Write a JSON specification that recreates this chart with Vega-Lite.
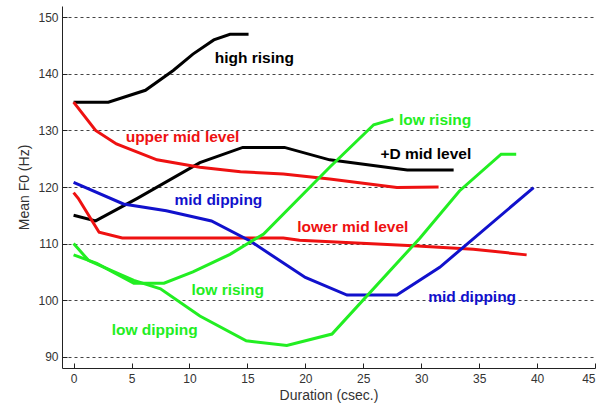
{
  "$schema": "https://vega.github.io/schema/vega-lite/v6.json",
  "width": 533,
  "height": 362,
  "autosize": {"type": "none"},
  "padding": {"left": 62, "top": 6, "right": 13, "bottom": 35},
  "background": "white",
  "config": {
    "view": {"stroke": null},
    "axis": {
      "domainColor": "#222",
      "tickColor": "#222",
      "labelFont": "Liberation Sans",
      "labelFontSize": 12,
      "labelColor": "#333",
      "titleFont": "Liberation Sans",
      "titleFontSize": 14,
      "titleFontWeight": "normal",
      "titleColor": "#333",
      "gridColor": "#444",
      "gridDash": [3, 3],
      "gridOpacity": 1,
      "gridWidth": 1
    }
  },
  "datasets": {
    "lines": [
      {"tone": "high rising", "t": 0, "f0": 135},
      {"tone": "high rising", "t": 3, "f0": 135},
      {"tone": "high rising", "t": 6.2, "f0": 137.1},
      {"tone": "high rising", "t": 8.6, "f0": 140.6},
      {"tone": "high rising", "t": 10.3, "f0": 143.5},
      {"tone": "high rising", "t": 12.1, "f0": 146},
      {"tone": "high rising", "t": 13.5, "f0": 147},
      {"tone": "high rising", "t": 15.1, "f0": 147},
      {"tone": "+D mid level", "t": 0, "f0": 115},
      {"tone": "+D mid level", "t": 1.9, "f0": 114},
      {"tone": "+D mid level", "t": 5.5, "f0": 118},
      {"tone": "+D mid level", "t": 10.9, "f0": 124.3},
      {"tone": "+D mid level", "t": 14.6, "f0": 127},
      {"tone": "+D mid level", "t": 18.2, "f0": 127},
      {"tone": "+D mid level", "t": 22.1, "f0": 124.8},
      {"tone": "+D mid level", "t": 28.8, "f0": 123},
      {"tone": "+D mid level", "t": 32.8, "f0": 123},
      {"tone": "upper mid level", "t": 0, "f0": 135},
      {"tone": "upper mid level", "t": 1.9, "f0": 130},
      {"tone": "upper mid level", "t": 3.7, "f0": 127.6},
      {"tone": "upper mid level", "t": 7.2, "f0": 124.8},
      {"tone": "upper mid level", "t": 10.9, "f0": 123.5},
      {"tone": "upper mid level", "t": 14.4, "f0": 122.7},
      {"tone": "upper mid level", "t": 18.1, "f0": 122.3},
      {"tone": "upper mid level", "t": 22.1, "f0": 121.4},
      {"tone": "upper mid level", "t": 27.9, "f0": 119.9},
      {"tone": "upper mid level", "t": 31.5, "f0": 120},
      {"tone": "lower mid level", "t": 0, "f0": 119},
      {"tone": "lower mid level", "t": 0.4, "f0": 118},
      {"tone": "lower mid level", "t": 2.2, "f0": 112},
      {"tone": "lower mid level", "t": 4.2, "f0": 111},
      {"tone": "lower mid level", "t": 18.1, "f0": 111},
      {"tone": "lower mid level", "t": 19.5, "f0": 110.6},
      {"tone": "lower mid level", "t": 29.3, "f0": 109.6},
      {"tone": "lower mid level", "t": 34.5, "f0": 109},
      {"tone": "lower mid level", "t": 39.1, "f0": 108},
      {"tone": "mid dipping", "t": 0, "f0": 120.8},
      {"tone": "mid dipping", "t": 4.3, "f0": 117},
      {"tone": "mid dipping", "t": 8, "f0": 115.8},
      {"tone": "mid dipping", "t": 11.9, "f0": 114},
      {"tone": "mid dipping", "t": 15.2, "f0": 110.5},
      {"tone": "mid dipping", "t": 20, "f0": 104},
      {"tone": "mid dipping", "t": 23.6, "f0": 100.9},
      {"tone": "mid dipping", "t": 27.9, "f0": 100.9},
      {"tone": "mid dipping", "t": 31.6, "f0": 105.8},
      {"tone": "mid dipping", "t": 39.7, "f0": 119.9},
      {"tone": "low rising", "t": 0, "f0": 108},
      {"tone": "low rising", "t": 2, "f0": 106.5},
      {"tone": "low rising", "t": 5.2, "f0": 103},
      {"tone": "low rising", "t": 7.8, "f0": 103},
      {"tone": "low rising", "t": 10.3, "f0": 105},
      {"tone": "low rising", "t": 13.5, "f0": 108.1},
      {"tone": "low rising", "t": 16.4, "f0": 111.7},
      {"tone": "low rising", "t": 22.1, "f0": 123.5},
      {"tone": "low rising", "t": 25.9, "f0": 131},
      {"tone": "low rising", "t": 27.6, "f0": 132},
      {"tone": "low dipping", "t": 0, "f0": 110},
      {"tone": "low dipping", "t": 1.3, "f0": 107},
      {"tone": "low dipping", "t": 5.2, "f0": 103.5},
      {"tone": "low dipping", "t": 7.5, "f0": 102},
      {"tone": "low dipping", "t": 10.9, "f0": 97.2},
      {"tone": "low dipping", "t": 14.9, "f0": 92.8},
      {"tone": "low dipping", "t": 18.4, "f0": 92},
      {"tone": "low dipping", "t": 22.3, "f0": 94},
      {"tone": "low dipping", "t": 29.9, "f0": 111},
      {"tone": "low dipping", "t": 33.3, "f0": 119.3},
      {"tone": "low dipping", "t": 36.9, "f0": 125.8},
      {"tone": "low dipping", "t": 38.2, "f0": 125.8}
    ],
    "labels": [
      {"tone": "high rising", "text": "high rising", "t": 15.6, "f0": 142.8},
      {"tone": "upper mid level", "text": "upper mid level", "t": 9.4, "f0": 128.9},
      {"tone": "+D mid level", "text": "+D mid level", "t": 30.4, "f0": 125.8},
      {"tone": "low rising", "text": "low rising", "t": 31.2, "f0": 131.9},
      {"tone": "mid dipping", "text": "mid dipping", "t": 12.5, "f0": 117.7},
      {"tone": "lower mid level", "text": "lower mid level", "t": 24.1, "f0": 113},
      {"tone": "low rising", "text": "low rising", "t": 13.3, "f0": 101.8},
      {"tone": "mid dipping", "text": "mid dipping", "t": 34.4, "f0": 100.6},
      {"tone": "low dipping", "text": "low dipping", "t": 7.0, "f0": 94.8}
    ]
  },
  "layer": [
    {
      "data": {"name": "lines"},
      "mark": {"type": "line", "strokeWidth": 3, "clip": true},
      "encoding": {
        "x": {
          "field": "t", "type": "quantitative",
          "scale": {"domain": [-1, 45], "nice": false, "zero": false},
          "axis": {
            "title": "Duration (csec.)",
            "values": [0, 5, 10, 15, 20, 25, 30, 35, 40, 45],
            "grid": false,
            "tickSize": -5,
            "labelPadding": 10,
            "titlePadding": 4
          }
        },
        "y": {
          "field": "f0", "type": "quantitative",
          "scale": {"domain": [88, 152], "nice": false, "zero": false},
          "axis": {
            "title": "Mean F0 (Hz)",
            "values": [90, 100, 110, 120, 130, 140, 150],
            "grid": true,
            "tickSize": -5,
            "labelPadding": 9,
            "titlePadding": 6
          }
        },
        "color": {
          "field": "tone", "type": "nominal", "legend": null,
          "scale": {
            "domain": ["high rising", "+D mid level", "upper mid level", "lower mid level", "mid dipping", "low rising", "low dipping"],
            "range": ["#000000", "#000000", "#ee1111", "#ee1111", "#1111cc", "#22ee22", "#22ee22"]
          }
        },
        "detail": {"field": "tone"}
      }
    },
    {
      "data": {"name": "labels"},
      "mark": {"type": "text", "font": "Liberation Sans", "fontSize": 15.5, "fontWeight": "bold", "align": "center", "baseline": "middle"},
      "encoding": {
        "x": {"field": "t", "type": "quantitative"},
        "y": {"field": "f0", "type": "quantitative"},
        "text": {"field": "text"},
        "color": {"field": "tone", "type": "nominal", "legend": null}
      }
    }
  ]
}
